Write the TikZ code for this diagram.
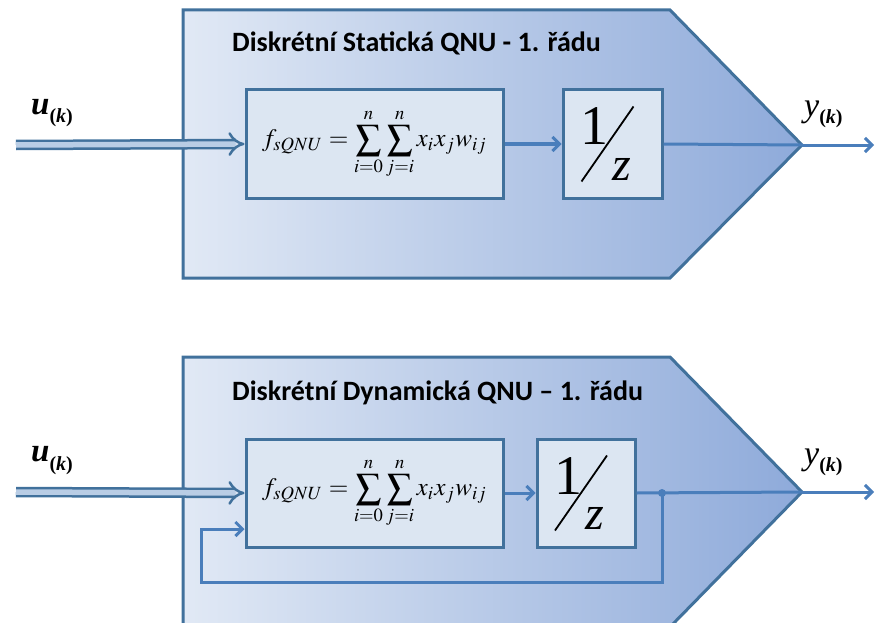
\documentclass[tikz,border=0pt]{standalone}
\usepackage{mathptmx}
\usepackage{graphicx}
\usepackage{fontspec}
\setmainfont{Liberation Serif}
\newfontfamily\titlefont{Carlito}
\usetikzlibrary{arrows.meta,calc}

\definecolor{edgeblue}{HTML}{41719C}
\definecolor{lineblue}{HTML}{4A7EBB}
\definecolor{shadeL}{HTML}{E1E9F5}
\definecolor{shadeR}{HTML}{8EAADA}
\definecolor{boxfill}{HTML}{DCE6F2}
\definecolor{arrowfill}{HTML}{B9CDE5}

\tikzset{
  unitshape/.style={left color=shadeL, right color=shadeR, draw=edgeblue, line width=3pt, line join=miter},
  qbox/.style={draw=edgeblue, fill=boxfill, line width=3pt, inner sep=0pt, minimum height=108pt},
  titletext/.style={anchor=base west, inner sep=0pt, font=\titlefont\bfseries\fontsize{28}{28}\selectfont},
  sigtext/.style={anchor=base west, inner sep=0pt},
  inarrow/.style={draw=edgeblue, double=arrowfill, double distance=5.5pt, line width=2.5pt, -{Implies}},
  wire/.style={draw=lineblue, line width=3pt},
  conn/.style={wire, -{Straight Barb[length=7pt,width=14pt]}},
  bigdigit/.style={inner sep=0pt, anchor=base, font=\fontsize{56}{56}\selectfont},
  bigz/.style={inner sep=0pt, anchor=base, font=\fontsize{48}{48}\selectfont\itshape},
  slashline/.style={draw=black, line width=1.8pt}
}

\newcommand{\qnuformula}{\scalebox{2.52}{$\displaystyle f_{sQNU}=\sum_{i=0}^{n}\sum_{j=i}^{n}x_i x_j w_{ij}$}}
\newcommand{\sigu}{{\fontsize{33}{33}\selectfont\bfseries\itshape u}{\fontsize{20}{20}\selectfont\bfseries\raisebox{-9pt}{(\textit{k})}}}
\newcommand{\sigy}{{\fontsize{34}{34}\selectfont\itshape y}{\fontsize{20}{20}\selectfont\bfseries\raisebox{-7pt}{(\textit{k})}}}

\begin{document}
\begin{tikzpicture}[x=1pt,y=-1pt]
\useasboundingbox (0,0) rectangle (875,623);
\clip (0,0) rectangle (875,623);

% ---------- static unit ----------
\shadedraw[unitshape] (183,10) -- (670,10) -- (802,145) -- (670,278) -- (183,278) -- cycle;
\coordinate (tip1) at (802,145);
\coordinate (in1) at (16,145);
\coordinate (out1) at (874,145);

\node[titletext] (t1) at (232,52) {Diskrétní Statická QNU - 1. řádu};
\node[sigtext] (u1) at (31,114) {\sigu};
\node[sigtext] (y1) at (804,117) {\sigy};

\node[qbox, minimum width=257pt] (q1) at (374.5,144) {\qnuformula};
\node[qbox, minimum width=99pt] (z1) at (612.5,144) {};
\node[bigdigit] (one1) at ($(z1.center)+(-18,1)$) {1};
\node[bigz] (zz1) at ($(z1.center)+(9,36)$) {z};
\draw[slashline] ($(z1.center)+(-31,37.5)$) -- ($(z1.center)+(21,-37.5)$);

\draw[inarrow] (in1) -- (q1.west);
\draw[conn] (q1.east) -- (z1.west);
\draw[wire] (z1.east) -- (tip1);
\draw[conn] (tip1) -- (out1);

% ---------- dynamic unit ----------
\shadedraw[unitshape] (183,357) -- (670,357) -- (802,492) -- (670,627) -- (183,627) -- cycle;
\coordinate (tip2) at (802,492);
\coordinate (in2) at (16,492);
\coordinate (out2) at (874,492);

\node[titletext] (t2) at (232,400) {Diskrétní Dynamická QNU – 1. řádu};
\node[sigtext] (u2) at (31,461) {\sigu};
\node[sigtext] (y2) at (804,464) {\sigy};

\node[qbox, minimum width=257pt] (q2) at (374.5,493) {\qnuformula};
\node[qbox, minimum width=98pt] (z2) at (586,493) {};
\node[bigdigit] (one2) at ($(z2.center)+(-18,1)$) {1};
\node[bigz] (zz2) at ($(z2.center)+(9,36)$) {z};
\draw[slashline] ($(z2.center)+(-31,37.5)$) -- ($(z2.center)+(21,-37.5)$);

\coordinate (split) at (662,493);
\coordinate (fbcorner) at (201,582);
\coordinate (fbin) at ($(q2.west)+(0,36)$);

\draw[inarrow] (in2) -- (q2.west);
\draw[conn] (q2.east) -- (z2.west);
\draw[wire] (z2.east) -- (tip2);
\draw[conn] (tip2) -- (out2);
\draw[conn] (split) |- (fbcorner) |- (fbin);
\fill[lineblue] (split) circle (4pt);
\end{tikzpicture}
\end{document}
